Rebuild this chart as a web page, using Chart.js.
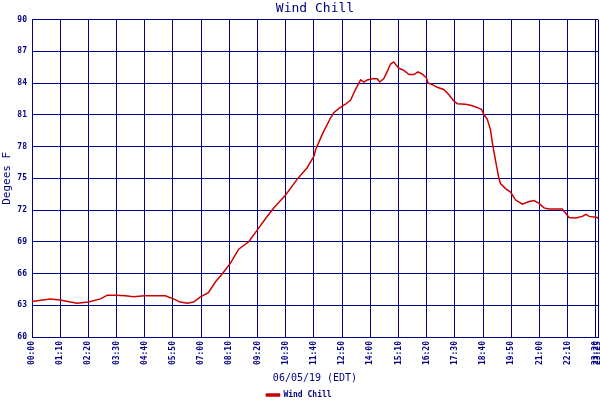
<!DOCTYPE html>
<html>
<head>
<meta charset="utf-8">
<script src="https://cdn.jsdelivr.net/npm/chart.js@4"></script>
<style>
    body { margin: 0; background: #fff; }
    canvas { display: block; }
</style>
</head>
<body>
<canvas id="chill" width="600" height="400"></canvas>
<script>
// readings taken off the station graph, 06/05/19
const times = [
    '00:00', '00:45', '01:10', '01:35', '01:52', '02:20', '02:50', '03:07', '03:29', '03:52',
    '04:12', '04:39', '05:31', '05:51', '06:08', '06:26', '06:41', '06:58', '07:18', '07:35',
    '07:51', '08:13', '08:33', '08:58', '09:19', '09:40', '10:00', '10:29', '10:58', '11:23',
    '11:40', '11:44', '12:01', '12:21', '12:29', '12:42', '12:58', '13:11', '13:23', '13:36',
    '13:44', '13:52', '14:05', '14:17', '14:23', '14:33', '14:42', '14:50', '14:58', '15:04',
    '15:11', '15:23', '15:36', '15:48', '15:58', '16:09', '16:19', '16:23', '16:34', '16:46',
    '17:02', '17:15', '17:27', '17:36', '17:56', '18:09', '18:25', '18:36', '18:42', '18:50',
    '18:58', '19:03', '19:11', '19:19', '19:23', '19:36', '19:48', '20:00', '20:17', '20:34',
    '20:46', '20:58', '21:11', '21:23', '21:56', '22:05', '22:13', '22:30', '22:46', '22:55',
    '23:03', '23:23', '23:25'
];
const windChill = [
    63.35, 63.6, 63.5, 63.3, 63.2, 63.3, 63.6, 63.95, 63.95, 63.9,
    63.8, 63.9, 63.9, 63.6, 63.3, 63.2, 63.3, 63.8, 64.2, 65.2,
    65.9, 67.0, 68.3, 69.0, 70.1, 71.2, 72.2, 73.4, 74.9, 76.0,
    77.1, 77.7, 79.2, 80.7, 81.2, 81.6, 82.0, 82.4, 83.4, 84.3,
    84.1, 84.3, 84.4, 84.4, 84.1, 84.4, 85.1, 85.8, 86.0, 85.7,
    85.4, 85.2, 84.8, 84.8, 85.05, 84.85, 84.5, 84.0, 83.85, 83.6,
    83.4, 82.9, 82.3, 82.05, 82.0, 81.9, 81.7, 81.5, 81.0, 80.6,
    79.6, 78.3, 76.6, 75.0, 74.5, 74.0, 73.7, 72.97, 72.56, 72.8,
    72.9, 72.65, 72.2, 72.1, 72.1, 71.7, 71.3, 71.25, 71.4, 71.6,
    71.4, 71.3, 71.2
];
const xTicks = [
    '00:00', '01:10', '02:20', '03:30', '04:40', '05:50', '07:00', '08:10', '09:20', '10:30', '11:40',
    '12:50', '14:00', '15:10', '16:20', '17:30', '18:40', '19:50', '21:00', '22:10', '23:20', '23:25'
];
const yTicks = [60, 63, 66, 69, 72, 75, 78, 81, 84, 87, 90];

const navy = '#000080';

function toMinutes(t) {
    const parts = t.split(':');
    return parseInt(parts[0]) * 60 + parseInt(parts[1]);
}

function toClock(m) {
    const h = Math.floor(m / 60);
    const mm = m % 60;
    return String(h).padStart(2, '0') + ':' + String(mm).padStart(2, '0');
}

const points = times.map((t, i) => ({ x: toMinutes(t), y: windChill[i] }));
const xMax = toMinutes(xTicks[xTicks.length - 1]);

const ctx = document.getElementById('chill').getContext('2d');
new Chart(ctx, {
    type: 'line',
    data: {
        datasets: [{
            label: 'Wind Chill',
            data: points,
            borderColor: '#cc0000',
            backgroundColor: '#cc0000',
            borderWidth: 1.5,
            pointRadius: 0,
            tension: 0
        }]
    },
    options: {
        responsive: false,
        animation: false,
        layout: { padding: { left: 0, right: 2, top: 0, bottom: 0 } },
        plugins: {
            title: {
                display: true,
                text: 'Wind Chill',
                color: navy,
                fullSize: false,
                font: { family: 'DejaVu Sans Mono', size: 13, weight: 'normal', lineHeight: 1.2 },
                padding: { top: 1, bottom: 3 }
            },
            legend: {
                position: 'bottom',
                maxHeight: 12,
                labels: {
                    color: navy,
                    boxWidth: 13,
                    boxHeight: 2,
                    padding: 3,
                    font: { family: 'DejaVu Sans Mono', size: 8, weight: 'bold' }
                }
            },
            tooltip: { enabled: false }
        },
        scales: {
            x: {
                type: 'linear',
                min: 0,
                max: xMax,
                afterBuildTicks: function(scale) {
                    scale.ticks = xTicks.map(t => ({ value: toMinutes(t) }));
                },
                afterFit: function(scale) {
                    scale.height = 51;
                    scale.paddingLeft = 0;
                    scale.paddingRight = 0;
                },
                grid: { color: navy, lineWidth: 1, drawTicks: false },
                border: { color: navy, width: 1 },
                ticks: {
                    color: navy,
                    autoSkip: false,
                    maxRotation: 90,
                    minRotation: 90,
                    padding: 4,
                    font: { family: 'DejaVu Sans Mono', size: 8, weight: 'bold' },
                    callback: function(value) { return toClock(value); }
                },
                title: {
                    display: true,
                    text: '06/05/19 (EDT)',
                    color: navy,
                    font: { family: 'DejaVu Sans Mono', size: 10 },
                    padding: { top: 0, bottom: 4 }
                }
            },
            y: {
                min: 60,
                max: 90,
                afterBuildTicks: function(scale) {
                    scale.ticks = yTicks.map(v => ({ value: v }));
                },
                afterFit: function(scale) {
                    scale.width = 32;
                },
                grid: { color: navy, lineWidth: 1, drawTicks: false },
                border: { color: navy, width: 1 },
                ticks: {
                    color: navy,
                    padding: 5,
                    font: { family: 'DejaVu Sans Mono', size: 8, weight: 'bold' }
                },
                title: {
                    display: true,
                    text: 'Degees F',
                    color: navy,
                    font: { family: 'DejaVu Sans Mono', size: 11 },
                    padding: { top: 1, bottom: 0 }
                }
            }
        }
    }
});
</script>
</body>
</html>
